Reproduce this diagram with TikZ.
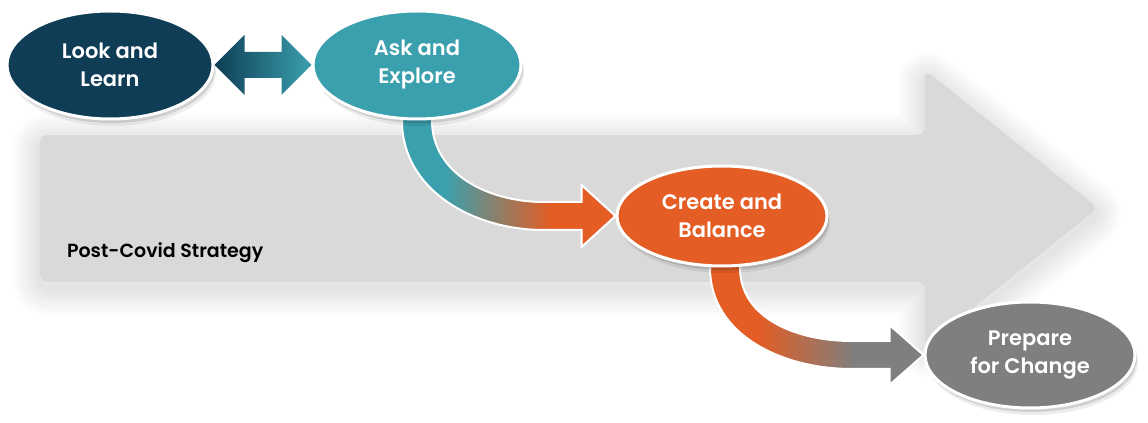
\documentclass[tikz,border=0pt]{standalone}
\usepackage{fontspec}
\setmainfont{Poppins}[BoldFont={Poppins SemiBold}]
\usetikzlibrary{shapes.geometric,calc,backgrounds}
\definecolor{lookc}{RGB}{14,61,85}
\definecolor{askc}{RGB}{59,160,174}
\definecolor{createc}{RGB}{227,93,36}
\definecolor{prepc}{RGB}{127,127,127}
\definecolor{bandc}{RGB}{217,217,217}
\pgfdeclarehorizontalshading{askcreate}{100bp}{color(0bp)=(askc); color(35bp)=(askc); color(60bp)=(createc); color(100bp)=(createc)}
\pgfdeclarehorizontalshading{createprep}{100bp}{color(0bp)=(createc); color(36bp)=(createc); color(59bp)=(prepc); color(100bp)=(prepc)}
\begin{document}
\begin{tikzpicture}[x=0.5pt,y=0.5pt,
    flow/.style={draw=white,line width=1pt,line join=miter}]
  \useasboundingbox (0,0) rectangle (1148,423);
  \begin{scope}[every node/.style={ellipse,draw=white,line width=1.5pt,text=white,
      align=center,inner sep=0pt,font=\fontsize{10.5}{14}\selectfont\bfseries,
      preaction={fill=black,opacity=.07,transform canvas={xshift=1.5pt,yshift=-3.5pt}},
      preaction={fill=black,opacity=.12,transform canvas={xshift=1pt,yshift=-2pt}}}]
    \node[fill=lookc,minimum width=103pt,minimum height=54pt] (look) at (110,358) {Look and\\Learn};
    \node[fill=askc,minimum width=104pt,minimum height=54pt] (ask) at (417,358) {Ask and\\Explore};
    \node[fill=createc,minimum width=105pt,minimum height=50pt] (create) at (722,207) {Create and\\Balance};
    \node[fill=prepc,minimum width=105pt,minimum height=53pt] (prep) at (1030,68) {Prepare\\for Change};
  \end{scope}
  \node[anchor=base west,font=\fontsize{9.5}{12}\selectfont\bfseries] (title) at (60,165) {Post-Covid Strategy};
  \begin{pgfonlayer}{background}
    % big grey arrow behind everything
    \path[save path=\bandpath,rounded corners=4pt] (40,141) -- (40,288) -- (925,288) -- (925,353)
      -- (1098,215) -- (925,76) -- (925,141) -- cycle;
    \foreach \w in {3,6,...,27}
      \draw[use path=\bandpath,black,opacity=.012,line width=\w pt,line join=round,
        transform canvas={yshift=-3pt}];
    \fill[bandc,use path=\bandpath];
    % double arrow
    \shade[left color=lookc,right color=askc] (look.east) -- ($(look.east)+(30,30)$) -- ($(look.east)+(30,13)$)
      -- ($(ask.west)+(-30,13)$) -- ($(ask.west)+(-30,30)$) -- (ask.west) -- ($(ask.west)+(-30,-30)$)
      -- ($(ask.west)+(-30,-13)$) -- ($(look.east)+(30,-13)$) -- ($(look.east)+(30,-30)$) -- cycle;
    % curved arrows
    \shadedraw[flow,shading=askcreate] ($(ask.south)+(-15,20)$) -- ($(ask.south)+(-15,0)$)
      to[out=-90,in=180] ($(create.west)+(-72,-14)$) -- ($(create.west)+(-34,-14)$)
      -- ($(create.west)+(-34,-31)$) -- (create.west) -- ($(create.west)+(-34,31)$)
      -- ($(create.west)+(-34,14)$) -- ($(create.west)+(-72,14)$)
      to[out=180,in=-90] ($(ask.south)+(15,0)$) -- ($(ask.south)+(15,20)$) -- cycle;
    \shadedraw[flow,shading=createprep] ($(create.south)+(-12,20)$) -- ($(create.south)+(-12,0)$)
      to[out=-90,in=180] ($(prep.west)+(-72,-14)$) -- ($(prep.west)+(-34,-14)$)
      -- ($(prep.west)+(-34,-30)$) -- (prep.west) -- ($(prep.west)+(-34,30)$)
      -- ($(prep.west)+(-34,14)$) -- ($(prep.west)+(-72,14)$)
      to[out=180,in=-90] ($(create.south)+(18,0)$) -- ($(create.south)+(18,20)$) -- cycle;
  \end{pgfonlayer}
\end{tikzpicture}
\end{document}
